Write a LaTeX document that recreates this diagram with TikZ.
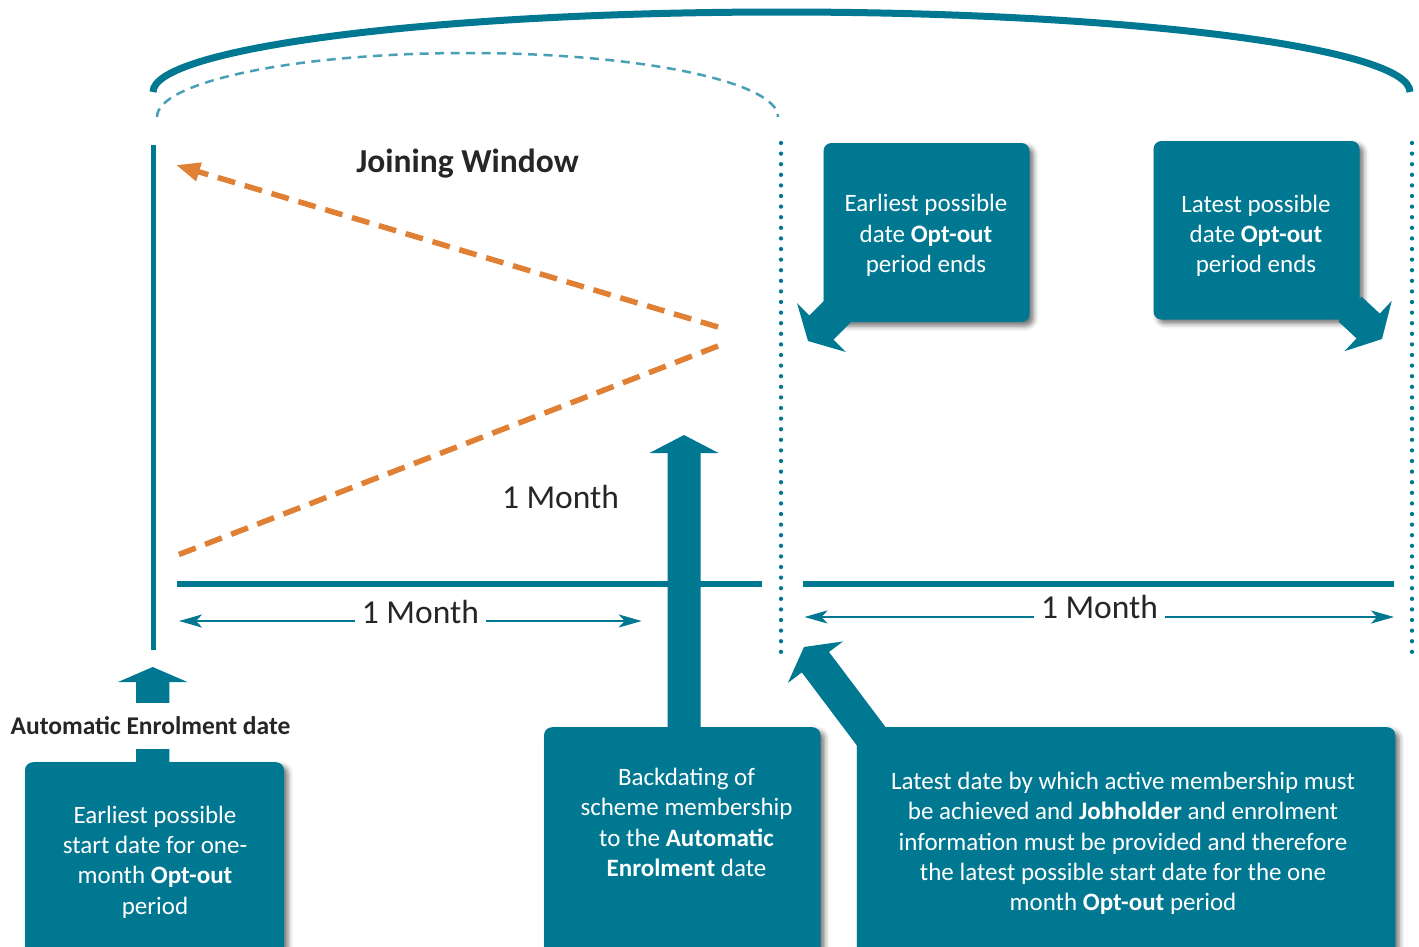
\documentclass[tikz,border=0pt]{standalone}
\usepackage{fontspec}
\setmainfont{Carlito}
\usetikzlibrary{arrows.meta,calc,shadows.blur}

\definecolor{tealmain}{RGB}{0,120,145}
\definecolor{tealsoft}{RGB}{72,160,181}
\definecolor{orangeline}{RGB}{224,128,52}
\definecolor{inkdark}{RGB}{38,38,38}

% block arrow: tail, tip, half shaft width, half head width, head length
\newcommand\blockarrow[5]{%
  \coordinate (ba-base) at ($(#2)!#5!(#1)$);
  \fill[tealmain] ($(#1)!#3!90:(#2)$) -- ($(ba-base)!#3!90:(#2)$)
    -- ($(ba-base)!#4!90:(#2)$) -- (#2) -- ($(ba-base)!#4!-90:(#2)$)
    -- ($(ba-base)!#3!-90:(#2)$) -- ($(#1)!#3!-90:(#2)$) -- cycle;}

\tikzset{
  tealbox/.style={fill=tealmain, rounded corners=8pt, inner sep=0pt,
    blur shadow={shadow xshift=4pt, shadow yshift=-4pt,
      shadow blur radius=5pt, shadow opacity=55}},
  boxtext/.style={text=white, align=center, inner sep=0pt,
    font=\fontsize{25}{30.3}\selectfont},
  tealline/.style={draw=tealmain, line width=5.5pt},
  dotline/.style={draw=tealmain, line width=4.3pt, line cap=round,
    dash pattern=on 0pt off 10.6pt},
  orangedash/.style={draw=orangeline, line width=5.5pt,
    dash pattern=on 18pt off 10pt},
  dimline/.style={draw=tealmain, line width=2.5pt,
    {Stealth[length=23pt,width=13pt,inset=6pt]}-{Stealth[length=23pt,width=13pt,inset=6pt]}},
  monthlabel/.style={fill=white, text=inkdark, inner xsep=7pt, inner ysep=3pt,
    anchor=base, font=\fontsize{33.5}{40}\selectfont},
}

\begin{document}
\begin{tikzpicture}[x=1pt,y=-1pt]
\useasboundingbox (0,0) rectangle (1419,946);
\clip (0,0) rectangle (1419,946);

% overall span and joining-window arcs
\coordinate (arcL) at (153,92);
\coordinate (arcTop) at (781.5,12);
\coordinate (arcR) at (1410,92);
\draw[tealmain, line width=7pt] (arcL) .. controls (153,48) and (434.5,12) .. (arcTop)
  .. controls (1128.5,12) and (1410,48) .. (arcR);
\coordinate (jwL) at (157,117);
\coordinate (jwTop) at (467.5,53);
\coordinate (jwR) at (778,117);
\draw[tealsoft, line width=2.5pt, dash pattern=on 9pt off 6.5pt]
  (jwL) .. controls (157,81.7) and (296,53) .. (jwTop)
  .. controls (639,53) and (778,81.7) .. (jwR);

% time lines
\coordinate (vTop) at (153,145);
\coordinate (vBot) at (153,650);
\draw[tealline, line width=5pt] (vTop) -- (vBot);
\coordinate (hLa) at (177,584);
\coordinate (hLb) at (762,584);
\coordinate (hRa) at (803,584);
\coordinate (hRb) at (1394,584);
\draw[tealline] (hLa) -- (hLb);
\draw[tealline] (hRa) -- (hRb);

% dotted boundaries
\coordinate (dotAtop) at (781,143);
\coordinate (dotAbot) at (781,655);
\coordinate (dotBtop) at (1412,143);
\coordinate (dotBbot) at (1412,655);
\draw[dotline] (dotAtop) -- (dotAbot);
\draw[dotline] (dotBtop) -- (dotBbot);

% orange dashed guides
\coordinate (orTopR) at (718,327);
\coordinate (orTopL) at (176,165);
\coordinate (orBotR) at (718,346);
\coordinate (orBotL) at (175,556);
\draw[orangedash, -{Triangle[length=24pt,width=18pt]}] (orTopR) -- (orTopL);
\draw[orangedash] (orBotR) -- (orBotL);

% one-month spans
\coordinate (spanLa) at (179,621);
\coordinate (spanLb) at (641.7,621);
\draw[dimline] (spanLa) -- (spanLb);
\node[monthlabel] (monthL) at (420.4,623.3) {1 Month};
\coordinate (spanRa) at (804.5,617);
\coordinate (spanRb) at (1394,617);
\draw[dimline] (spanRa) -- (spanRb);
\node[monthlabel] (monthR) at (1099.5,618.3) {1 Month};
\node[monthlabel, fill=none] (monthUp) at (560.5,508) {1 Month};

\node[text=inkdark, anchor=base, inner sep=0pt, font=\fontsize{33.5}{40}\selectfont\bfseries]
  (jwTitle) at (467.5,172) {Joining Window};

% boxes
\node[tealbox, minimum width=206pt, minimum height=179pt] (optEarly) at (926.5,232.5) {};
\node[boxtext] (optEarlyTxt) at (926,235.5) {Earliest possible\\date \textbf{Opt-out}\\period ends};
\node[tealbox, minimum width=206pt, minimum height=178.5pt] (optLate) at (1256.5,230.25) {};
\node[boxtext] (optLateTxt) at (1256,236) {Latest possible\\date \textbf{Opt-out}\\period ends};
\node[tealbox, anchor=north, minimum width=259pt, minimum height=230pt] (startBox) at (154.5,762) {};
\node[boxtext] (startTxt) at (155,862) {Earliest possible\\start date for one-\\month \textbf{Opt-out}\\period};
\node[tealbox, anchor=north, minimum width=276.5pt, minimum height=240pt] (backBox) at (682.25,727) {};
\node[boxtext] (backTxt) at (686.5,822.5) {Backdating of\\scheme membership\\to the \textbf{Automatic}\\\textbf{Enrolment} date};
\node[tealbox, anchor=north, minimum width=538.5pt, minimum height=240pt] (lateBox) at (1126,727) {};
\node[boxtext] (lateTxt) at (1123,843.5) {Latest date by which active membership must\\be achieved and \textbf{Jobholder} and enrolment\\information must be provided and therefore\\the latest possible start date for the one\\month \textbf{Opt-out} period};

% block arrows out of the boxes
\coordinate (bigTail) at (684,740);
\coordinate (bigTip) at (684,435);
\blockarrow{bigTail}{bigTip}{16.5pt}{34.5pt}{18pt}
\coordinate (diagTail) at (874,740);
\coordinate (diagTip) at (804,647);
\blockarrow{diagTail}{diagTip}{17pt}{34.5pt}{19pt}
\coordinate (earlyTail) at (840,309);
\coordinate (earlyTip) at (808,341);
\blockarrow{earlyTail}{earlyTip}{17pt}{34.5pt}{19pt}
\coordinate (lateTail) at (1350,309);
\coordinate (lateTip) at (1382,339);
\blockarrow{lateTail}{lateTip}{17pt}{34.5pt}{19pt}
\coordinate (aeTail) at (152.7,770);
\coordinate (aeTip) at (152.7,667);
\blockarrow{aeTail}{aeTip}{16.7pt}{34.7pt}{15pt}

\node[fill=white, text=inkdark, inner xsep=2pt, inner ysep=14pt,
  font=\fontsize{25.5}{30}\selectfont\bfseries] (aeDate) at (150.5,726) {Automatic Enrolment date};
\end{tikzpicture}
\end{document}
